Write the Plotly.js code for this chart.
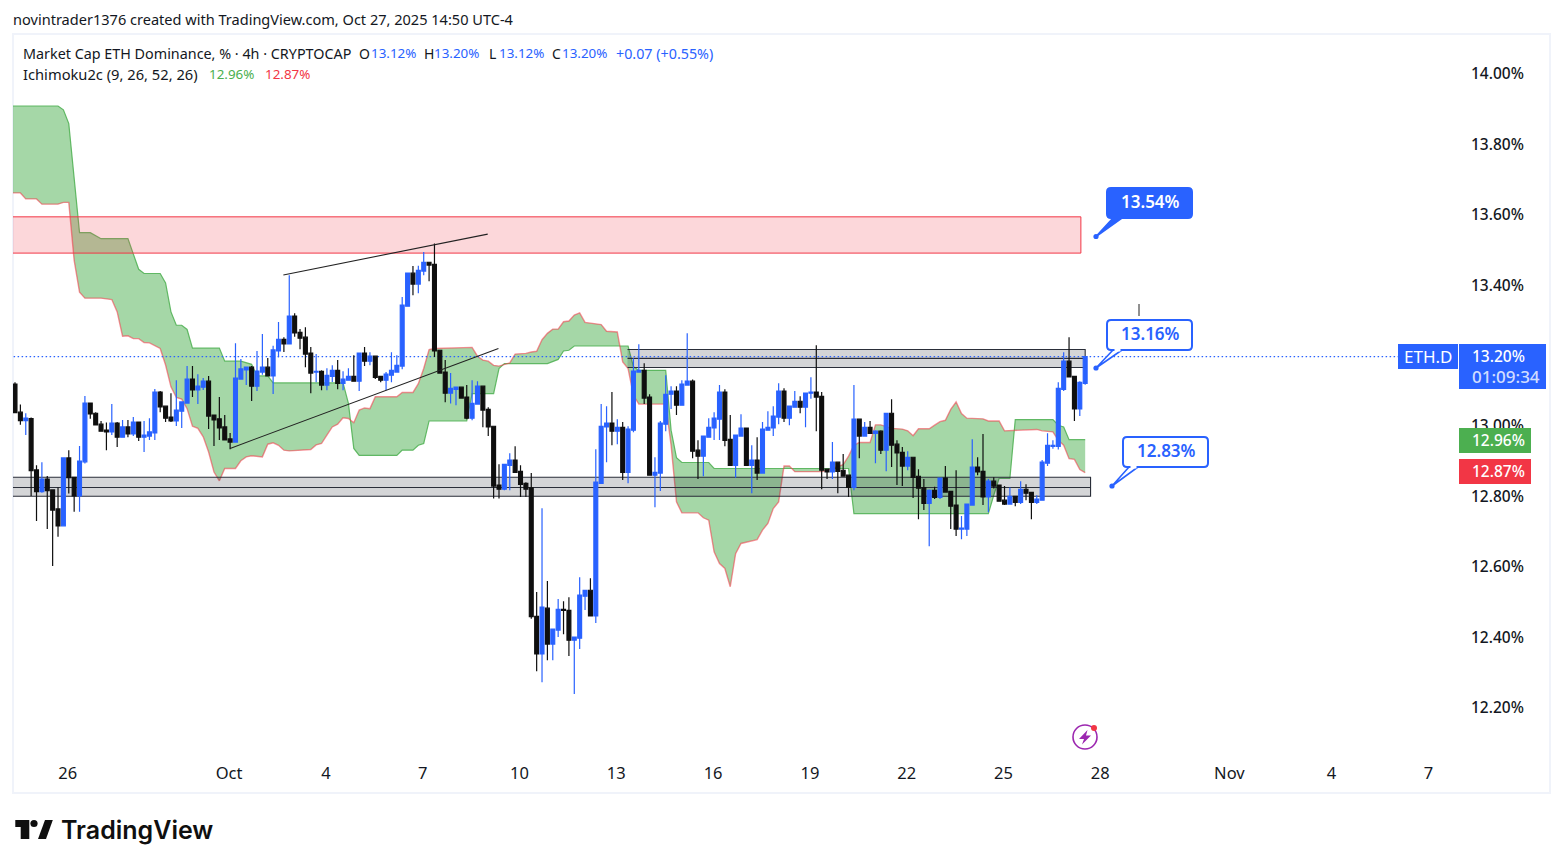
<!DOCTYPE html>
<html><head><meta charset="utf-8">
<script src="https://cdn.plot.ly/plotly-3.0.1.min.js"></script>
<style>html,body{margin:0;padding:0;background:#fff}#chart{width:1563px;height:868px}</style>
</head><body><div id="chart"></div>
<script>
const open_=[13.122,13.042,13.018,13.024,12.878,12.816,12.852,12.821,12.767,12.719,
12.912,12.857,12.804,12.901,13.068,13.039,13.008,12.991,12.986,13.011,
12.971,13.000,12.980,13.014,12.971,12.974,12.983,13.099,13.059,13.028,
13.017,13.045,13.068,13.136,13.105,13.113,13.130,13.034,13.023,13.000,
12.966,12.957,13.136,13.162,13.170,13.116,13.156,13.170,13.145,13.216,
13.249,13.236,13.315,13.269,13.255,13.210,13.156,13.158,13.119,13.144,
13.161,13.124,13.133,13.144,13.130,13.210,13.187,13.201,13.144,13.133,
13.147,13.156,13.173,13.343,13.437,13.406,13.443,13.468,13.462,13.218,
13.156,13.096,13.107,13.113,13.085,13.025,13.065,13.116,13.050,13.002,
12.835,12.823,12.891,12.906,12.874,12.840,12.827,12.462,12.355,12.485,
12.383,12.423,12.482,12.479,12.394,12.400,12.519,12.536,12.463,12.840,
13.000,13.011,12.988,12.999,12.871,12.991,13.156,13.161,13.085,12.863,
12.869,13.008,13.093,13.102,13.062,13.119,13.130,12.934,12.917,12.971,
12.997,13.022,13.099,12.965,12.891,12.974,12.997,12.891,12.906,12.869,
12.991,12.997,13.028,13.102,13.025,13.056,13.073,13.056,13.096,13.099,
13.087,12.880,12.872,12.900,12.877,12.863,12.828,13.022,12.974,12.999,
12.982,12.988,12.934,13.039,12.951,12.928,12.889,12.914,12.860,12.828,
12.783,12.820,12.800,12.855,12.817,12.778,12.710,12.710,12.778,12.886,
12.874,12.801,12.846,12.835,12.792,12.781,12.803,12.786,12.823,12.814,
12.786,12.792,12.897,12.945,12.945,13.107,13.187,13.144,13.051,13.124];
const high_=[13.127,13.064,13.039,13.027,12.891,12.900,12.861,12.821,12.828,12.914,
12.934,12.857,12.946,13.088,13.068,13.042,13.017,13.013,13.065,13.014,
13.020,13.020,13.028,13.014,13.017,13.025,13.108,13.102,13.059,13.096,
13.133,13.071,13.173,13.173,13.150,13.139,13.145,13.034,13.085,13.034,
12.983,13.238,13.193,13.170,13.173,13.216,13.264,13.196,13.231,13.298,
13.255,13.431,13.323,13.278,13.283,13.227,13.207,13.161,13.167,13.175,
13.190,13.158,13.167,13.204,13.210,13.227,13.212,13.201,13.144,13.156,
13.212,13.204,13.369,13.437,13.457,13.458,13.497,13.468,13.521,13.218,
13.190,13.153,13.113,13.113,13.119,13.133,13.130,13.116,13.056,13.002,
12.894,12.894,12.925,12.945,12.891,12.843,12.869,12.531,12.769,12.562,
12.426,12.511,12.505,12.516,12.403,12.573,12.536,12.570,12.937,13.065,
13.059,13.099,13.022,13.014,13.002,13.195,13.235,13.181,13.093,12.914,
13.017,13.147,13.116,13.116,13.133,13.266,13.135,12.962,12.974,13.025,
13.042,13.119,13.107,13.034,12.977,13.036,12.997,12.948,12.971,13.014,
13.045,13.059,13.124,13.110,13.059,13.102,13.087,13.096,13.141,13.232,
13.099,12.880,12.957,12.900,12.923,12.863,13.119,13.022,13.014,13.017,
12.991,12.991,13.039,13.079,12.962,12.943,12.931,12.914,12.880,12.852,
12.822,12.830,12.855,12.889,12.817,12.877,12.747,12.781,12.965,12.914,
12.980,12.852,12.857,12.835,12.832,12.828,12.803,12.846,12.837,12.814,
12.806,12.906,12.982,12.962,13.127,13.212,13.255,13.144,13.130,13.200];
const low_=[13.041,13.006,12.977,12.804,12.733,12.813,12.710,12.605,12.688,12.717,
12.811,12.759,12.759,12.896,13.023,13.006,12.988,12.934,12.977,12.943,
12.971,12.971,12.974,12.960,12.929,12.963,12.963,13.042,13.014,13.014,
13.003,12.997,13.068,13.085,13.065,13.105,12.994,12.946,12.963,12.963,
12.937,12.957,13.136,13.119,13.074,13.102,13.148,13.145,13.094,13.198,
13.213,13.236,13.256,13.221,13.170,13.096,13.127,13.104,13.104,13.128,
13.107,13.104,13.133,13.130,13.102,13.173,13.175,13.136,13.127,13.104,
13.127,13.156,13.164,13.343,13.374,13.380,13.431,13.414,13.199,13.153,
13.070,13.067,13.062,13.082,13.022,13.019,13.065,12.999,12.974,12.797,
12.797,12.820,12.820,12.871,12.801,12.801,12.455,12.306,12.275,12.337,
12.337,12.403,12.411,12.349,12.241,12.369,12.480,12.463,12.443,12.840,
12.900,12.948,12.951,12.849,12.840,12.985,13.156,13.065,12.863,12.772,
12.818,12.988,13.051,13.034,13.062,13.119,12.911,12.852,12.860,12.971,
12.963,12.963,12.945,12.891,12.856,12.974,12.891,12.812,12.849,12.869,
12.991,12.974,13.008,13.014,13.005,13.056,13.039,12.999,13.080,12.988,
12.823,12.852,12.852,12.812,12.860,12.801,12.820,12.911,12.974,12.982,
12.897,12.923,12.874,12.886,12.835,12.832,12.877,12.798,12.738,12.764,
12.661,12.795,12.795,12.815,12.710,12.690,12.681,12.690,12.778,12.863,
12.778,12.758,12.825,12.789,12.778,12.781,12.775,12.781,12.792,12.738,
12.781,12.792,12.889,12.938,12.936,13.102,13.142,13.017,13.031,13.120];
const close_=[13.041,13.018,13.025,12.876,12.816,12.852,12.819,12.764,12.719,12.912,
12.856,12.804,12.903,13.068,13.037,13.006,12.988,12.986,13.011,12.971,
13.000,12.980,13.014,12.971,12.977,12.986,13.099,13.057,13.025,13.017,
13.048,13.071,13.136,13.105,13.116,13.130,13.031,13.020,12.997,12.963,
12.957,13.139,13.165,13.170,13.116,13.159,13.170,13.145,13.219,13.249,
13.236,13.315,13.267,13.252,13.207,13.153,13.158,13.119,13.147,13.161,
13.124,13.136,13.144,13.130,13.210,13.187,13.201,13.141,13.133,13.150,
13.161,13.175,13.346,13.437,13.406,13.445,13.468,13.460,13.216,13.153,
13.096,13.110,13.113,13.082,13.025,13.067,13.116,13.048,13.000,12.832,
12.823,12.894,12.906,12.871,12.837,12.823,12.461,12.355,12.488,12.383,
12.426,12.482,12.479,12.394,12.403,12.522,12.536,12.463,12.843,13.002,
13.011,12.988,12.999,12.871,12.994,13.159,13.161,13.082,12.863,12.871,
13.011,13.093,13.102,13.062,13.122,13.130,12.931,12.917,12.974,12.999,
13.025,13.099,12.962,12.891,12.977,12.997,12.891,12.906,12.869,12.994,
12.999,13.031,13.102,13.025,13.059,13.073,13.056,13.096,13.099,13.085,
12.877,12.872,12.900,12.874,12.860,12.828,13.022,12.974,12.999,12.982,
12.988,12.934,13.039,12.948,12.926,12.889,12.914,12.857,12.826,12.783,
12.820,12.800,12.855,12.815,12.775,12.710,12.713,12.781,12.886,12.872,
12.801,12.846,12.832,12.789,12.781,12.803,12.786,12.823,12.812,12.786,
12.795,12.900,12.948,12.948,13.110,13.187,13.142,13.051,13.127,13.200];
const barIndex=open_.map((_,i)=>i);

const spanAX=[-1,8,9,10,12,14,16,21,23,24,27,28,29,30,31,32,33,38,39,42,44,45,47,48,61,62,63,64,71,72,74,75,76,77,84,85,89,90,91,99,101,102,103,104,114,115,116,121,122,123,124,129,130,155,156,181,182,183,185,186,193,194,195,196,199];
const spanAY=[13.912,13.912,13.901,13.862,13.552,13.552,13.535,13.535,13.448,13.436,13.436,13.409,13.327,13.289,13.289,13.277,13.224,13.224,13.187,13.187,13.178,13.145,13.145,13.125,13.125,13.067,12.939,12.919,12.919,12.934,12.934,12.948,12.953,13.017,13.017,13.095,13.095,13.166,13.180,13.180,13.192,13.216,13.218,13.230,13.230,13.171,13.161,13.161,12.991,12.913,12.899,12.899,12.882,12.882,12.754,12.754,12.806,12.854,12.854,13.021,13.021,13.005,13.000,12.964,12.964];
const spanBX=[-1,1,2,4,5,8,9,10,11,12,13,16,18,19,20,21,22,23,24,25,27,28,29,30,31,32,33,34,35,36,37,38,39,41,42,43,44,46,47,48,49,50,51,54,55,56,57,58,59,60,61,62,63,64,65,66,67,71,72,74,75,76,77,78,85,86,87,88,89,90,91,92,93,95,96,97,98,99,100,101,102,103,104,105,106,109,110,112,113,114,115,116,121,122,123,124,127,128,129,130,131,132,133,134,135,136,137,138,139,140,141,142,143,144,145,150,151,153,154,155,156,157,159,160,161,163,165,166,167,168,170,171,172,173,174,175,176,177,180,181,183,184,190,191,192,193,194,195,196,197,198,199];
const spanBY=[13.665,13.665,13.648,13.648,13.633,13.633,13.638,13.638,13.473,13.383,13.366,13.366,13.362,13.327,13.258,13.259,13.251,13.251,13.240,13.239,13.223,13.176,13.114,13.084,13.079,13.052,13.002,12.996,12.972,12.929,12.872,12.847,12.882,12.882,12.904,12.915,12.918,12.915,12.951,12.955,12.948,12.934,12.932,12.936,12.936,12.949,12.953,12.977,13.000,13.008,13.026,13.024,13.012,13.048,13.054,13.052,13.086,13.086,13.098,13.098,13.123,13.166,13.220,13.223,13.226,13.201,13.190,13.187,13.175,13.173,13.177,13.182,13.207,13.209,13.213,13.215,13.248,13.266,13.278,13.278,13.299,13.301,13.318,13.324,13.297,13.291,13.272,13.270,13.185,13.166,13.090,13.065,13.065,12.948,12.787,12.756,12.756,12.742,12.735,12.645,12.612,12.598,12.546,12.640,12.669,12.673,12.676,12.680,12.707,12.726,12.768,12.787,12.889,12.889,12.873,12.873,12.877,12.887,12.893,12.917,12.948,12.956,12.956,13.006,13.006,12.996,12.994,12.989,12.975,12.995,12.995,13.005,13.015,13.019,13.050,13.071,13.038,13.025,13.023,13.017,13.017,12.989,12.993,12.989,12.988,12.986,12.962,12.948,12.910,12.908,12.879,12.870];

const supplyZone={x0:-1,x1:198.2,y0:13.494,y1:13.597};
const upperRange={x0:113.9,x1:199,top:13.220,mid:13.195,bottom:13.169};
const lowerRange={x0:-1,x1:200,top:12.857,mid:12.828,bottom:12.803};
const wedgeUpper={x:[49.9,87.9],y:[13.432,13.548]};
const wedgeLower={x:[40,89.9],y:[12.939,13.223]};
const lastPrice=13.20;

const yTickVals=[12.2,12.4,12.6,12.8,13.0,13.2,13.4,13.6,13.8,14.0];
const yTickText=['12.20%','12.40%','12.60%','12.80%','13.00%','13.20%','13.40%','13.60%','13.80%','14.00%'];
const xTickVals=[10,40,58,76,94,112,130,148,166,184,202,226,245,263];
const xTickText=['26','Oct','4','7','10','13','16','19','22','25','28','Nov','4','7'];

const FONT='"Noto Sans", sans-serif';
const BLUE='#2962ff', RED='#f23645', GREEN='#4caf50', INK='#131722';
const L=13,T=34,PW=1449,PH=718;
const ax=p=>(p-L)/PW, ay=p=>(T+PH-p)/PH;
const xRange=[-0.372,269.07], yRange=[12.0765,14.1165];

function box(b){return {x:[b.x0,b.x1,b.x1,b.x0],y:[b.top,b.top,b.bottom,b.bottom],mode:'lines',fill:'toself',
  fillcolor:'rgba(42,46,57,0.2)',line:{color:'#2a2e39',width:1.1},hoverinfo:'skip',xaxis:'x',yaxis:'y'};}
function mid(b){return {x:[b.x0,b.x1],y:[b.mid,b.mid],mode:'lines',line:{color:'#2a2e39',width:1.1},hoverinfo:'skip',xaxis:'x',yaxis:'y'};}

const traces=[
 {x:spanAX,y:spanAY,mode:'lines',line:{color:'rgba(76,175,80,0.85)',width:1.2},hoverinfo:'skip'},
 {x:spanBX,y:spanBY,mode:'lines',line:{color:'rgba(242,54,69,0.55)',width:1.4},fill:'tonexty',fillcolor:'rgba(76,175,80,0.5)',hoverinfo:'skip'},
 {x:[supplyZone.x0,supplyZone.x1,supplyZone.x1,supplyZone.x0,supplyZone.x0],y:[supplyZone.y1,supplyZone.y1,supplyZone.y0,supplyZone.y0,supplyZone.y1],mode:'lines',fill:'toself',fillcolor:'rgba(242,54,69,0.2)',line:{color:RED,width:1},hoverinfo:'skip'},
 box(upperRange),mid(upperRange),box(lowerRange),mid(lowerRange),
 {x:[-1,257.2],y:[lastPrice,lastPrice],mode:'lines',line:{color:BLUE,width:1.2,dash:'1.5px 2.5px'},hoverinfo:'skip'},
 {type:'candlestick',x:barIndex,open:open_,high:high_,low:low_,close:close_,xaxis:'x2',yaxis:'y2',whiskerwidth:0,
  increasing:{line:{color:BLUE,width:1.2},fillcolor:BLUE},decreasing:{line:{color:'#0f0f0f',width:1.2},fillcolor:'#0f0f0f'},hoverinfo:'skip'}
];

const shapes=[];
const line=(x,y,c)=>shapes.push({type:'line',xref:'x',yref:'y',x0:x[0],x1:x[1],y0:y[0],y1:y[1],line:{color:c,width:1.1},layer:'above'});
line(wedgeUpper.x,wedgeUpper.y,'#222');
line(wedgeLower.x,wedgeLower.y,'#222');
function ppath(d){return {type:'path',xref:'paper',yref:'paper',layer:'above',path:d,line:{width:0}};}
const pts=(a)=>a.map((q,i)=>(i?'L':'M')+ax(q[0])+','+ay(q[1])).join(' ')+' Z';
function rrect(x0,y0,x1,y1,fill,stroke){const r=4;
 const C=(x,y)=>ax(x)+','+ay(y);
 const d='M'+C(x0+r,y0)+' L'+C(x1-r,y0)+' Q'+C(x1,y0)+' '+C(x1,y0+r)+' L'+C(x1,y1-r)+' Q'+C(x1,y1)+' '+C(x1-r,y1)+' L'+C(x0+r,y1)+' Q'+C(x0,y1)+' '+C(x0,y1-r)+' L'+C(x0,y0+r)+' Q'+C(x0,y0)+' '+C(x0+r,y0)+' Z';
 return {type:'path',xref:'paper',yref:'paper',layer:'above',path:d,fillcolor:fill,line:{color:stroke,width:2}};}
function rect(x0,y0,x1,y1,fill){return {type:'rect',xref:'paper',yref:'paper',layer:'above',x0:ax(x0),x1:ax(x1),y0:ay(y0),y1:ay(y1),fillcolor:fill,line:{width:0}};}
function dot(x,y,r,fill,stroke,w){return {type:'circle',xref:'paper',yref:'paper',layer:'above',x0:ax(x-r),x1:ax(x+r),y0:ay(y-r),y1:ay(y+r),fillcolor:fill,line:stroke?{color:stroke,width:w}:{width:0}};}
shapes.push({type:'rect',xref:'paper',yref:'paper',layer:'below',x0:ax(13),x1:ax(1550),y0:ay(34),y1:ay(793),line:{color:'#f0f3fa',width:2},fillcolor:'rgba(0,0,0,0)'});
shapes.push({type:'line',xref:'paper',yref:'paper',layer:'above',x0:ax(1139),x1:ax(1139),y0:ay(304),y1:ay(316),line:{color:'#222',width:1}});
function callout(x0,y0,x1,y1,px,py,solid){
 const f=solid?BLUE:'#fff';
 shapes.push(Object.assign(ppath(pts([[x0+6,y1],[x0+15,y1],[px,py]])),{fillcolor:solid?BLUE:'#fff',line:{color:BLUE,width:1.6}}));
 shapes.push(rrect(x0,y0,x1,y1,f,BLUE));
 if(!solid) shapes.push(rect(x0+7.5,y1-1.5,x0+13.5,y1+1.5,'#fff'));
 shapes.push(dot(px,py,2.6,BLUE));
}
callout(1107,188,1192,218,1096,236.5,true);
callout(1107,320,1192,350,1096,368,false);
callout(1123,437,1208,467,1112,486,false);
shapes.push(rect(1398,344,1458,369,BLUE));
shapes.push(rect(1459,344,1546,389,BLUE));
shapes.push(rect(1459,428,1531,453,GREEN));
shapes.push(rect(1459,459,1531,484,RED));
shapes.push(dot(1085,737,12,'rgba(0,0,0,0)','#9c27b0',1.6));
shapes.push(dot(1094,728,3,RED));
shapes.push(Object.assign(ppath(pts([[1087.5,730],[1079,739],[1084,739],[1082,744.5],[1091,735.5],[1086,735.5]])),{fillcolor:'#9c27b0'}));
shapes.push(Object.assign(ppath(pts([[15.3,820],[29.3,820],[29.3,839],[20.7,839],[20.7,827],[15.3,827]])),{fillcolor:'#0f0f0f'}));
shapes.push(dot(34,823.5,3.6,'#0f0f0f'));
shapes.push(Object.assign(ppath(pts([[45,820],[52.8,820],[46,839],[38,839]])),{fillcolor:'#0f0f0f'}));

const anns=[];
function txt(t,px,py,o={}){anns.push(Object.assign({xref:'paper',yref:'paper',x:ax(px),y:ay(py),text:t,showarrow:false,xanchor:o.anchor||'left',yanchor:'middle',borderpad:0,
  font:{family:o.family||FONT,size:o.size||14,color:o.color||INK,weight:o.weight||400}}));}
txt('novintrader1376 created with TradingView.com, Oct 27, 2025 14:50 UTC-4',12,19,{size:14.55});
txt('Market Cap ETH Dominance, % · 4h · CRYPTOCAP',22,53,{size:14.35});
const legendLabels=[['O',358,INK,14],['13.12%',369.5,BLUE,13.4],['H',423,INK,14],['13.20%',433.5,BLUE,13.4],['L',488,INK,14],['13.12%',497.5,BLUE,13.4],['C',551,INK,14],['13.20%',560.5,BLUE,13.4],['+0.07 (+0.55%)',615,BLUE,14.3]];
legendLabels.forEach(l=>txt(l[0],l[1],53,{color:l[2],size:l[3]}));
txt('Ichimoku2c (9, 26, 52, 26)',22,74,{size:14.7});
txt('12.96%',207.5,74,{color:GREEN,size:13.4});
txt('12.87%',263.5,74,{color:RED,size:13.4});
txt('13.54%',1150,201.5,{anchor:'center',size:17,color:'#fff',weight:600});
txt('13.16%',1150,333.5,{anchor:'center',size:17,color:BLUE,weight:600});
txt('12.83%',1166,450.5,{anchor:'center',size:17,color:BLUE,weight:600});
txt('ETH.D',1428,356.5,{anchor:'center',size:17,color:'#fff'});
txt('13.20%',1470.5,356,{size:15.5,color:'#fff',weight:500});
txt('01:09:34',1470.5,376,{size:17,color:'rgba(255,255,255,0.8)',weight:500});
txt('12.96%',1470.5,440,{size:15.5,color:'#fff',weight:500});
txt('12.87%',1470.5,471,{size:15.5,color:'#fff',weight:500});
txt('TradingView',60,830,{family:'Inter, sans-serif',size:25,color:'#0f0f0f',weight:600});

const layout={width:1563,height:868,margin:{l:L,r:1563-L-PW,t:T,b:868-T-PH,pad:0},paper_bgcolor:'#fff',plot_bgcolor:'#fff',showlegend:false,
 xaxis:{range:xRange,tickmode:'array',tickvals:xTickVals,ticktext:xTickText,showgrid:false,zeroline:false,showline:false,ticks:'',ticklabelstandoff:9,ticklabelshift:-1,tickfont:{family:FONT,size:16.5,color:INK},tickangle:0,anchor:'y'},
 yaxis:{range:yRange,side:'right',tickmode:'array',tickvals:yTickVals,ticktext:yTickText,showgrid:false,zeroline:false,showline:false,ticks:'',ticklabelstandoff:8,ticklabelshift:-1,tickfont:{family:FONT,size:15.5,color:INK,weight:500},anchor:'x'},
 xaxis2:{range:xRange,overlaying:'x',visible:false,rangeslider:{visible:false},anchor:'y2',showgrid:false,zeroline:false},
 yaxis2:{range:yRange,overlaying:'y',visible:false,side:'right',anchor:'x2',showgrid:false,zeroline:false},
 boxgap:0.1,boxgroupgap:0.2,shapes:shapes,annotations:anns,hovermode:false,dragmode:false};
Plotly.newPlot('chart',traces,layout,{displayModeBar:false,staticPlot:true});
</script></body></html>
